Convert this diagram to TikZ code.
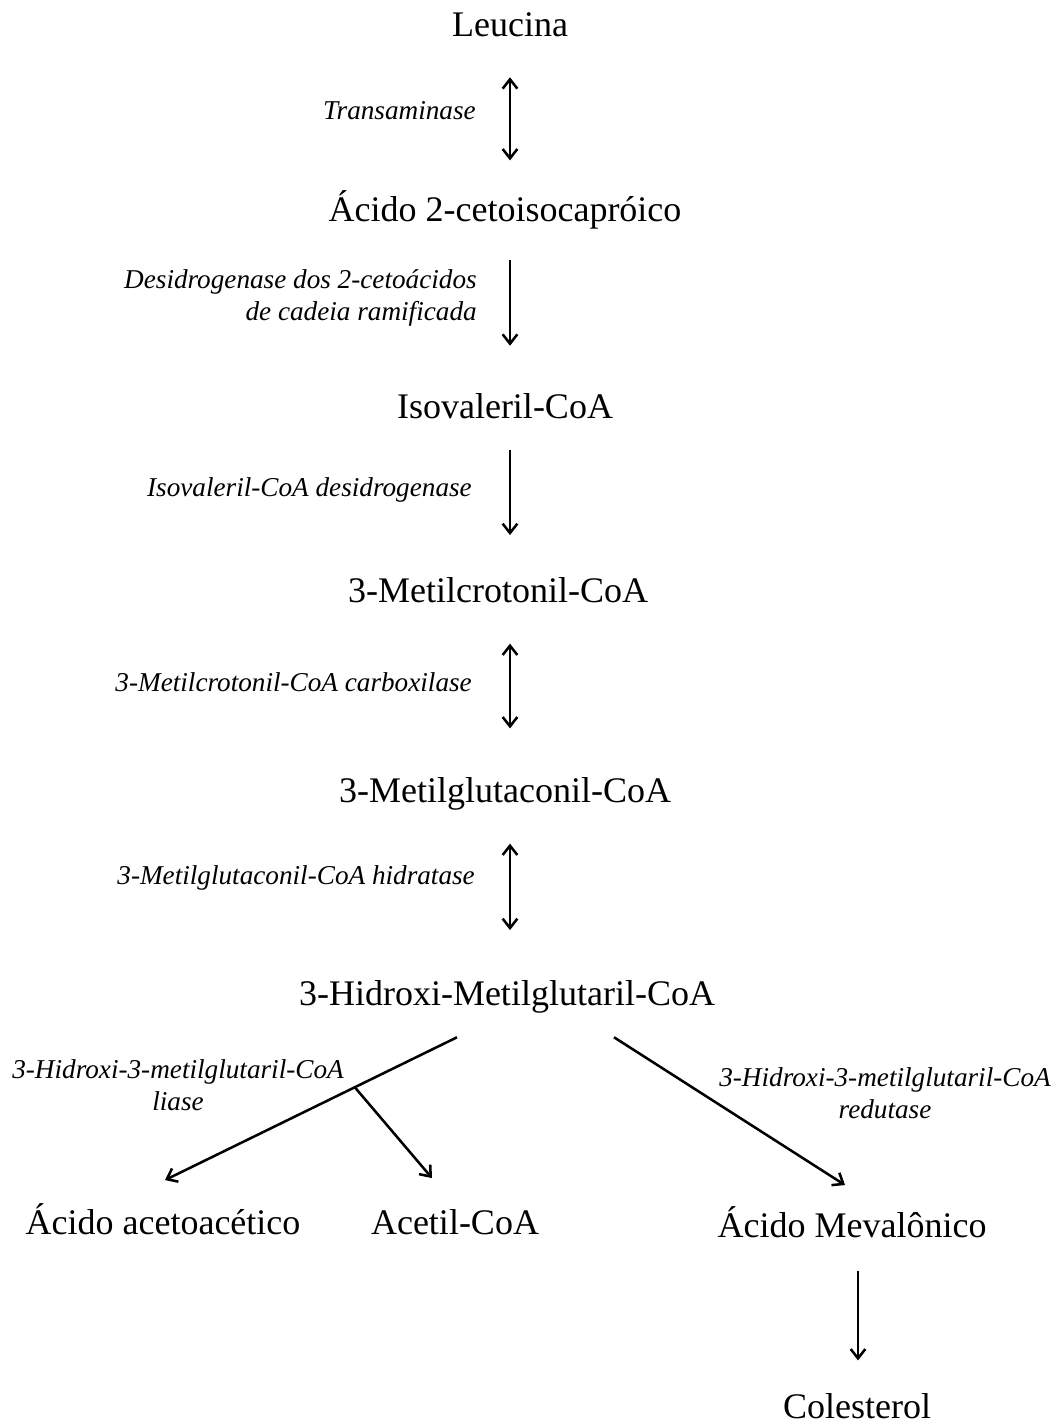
\documentclass[tikz,border=0pt]{standalone}
\usepackage{fontspec}
\setmainfont{Liberation Serif}
\usetikzlibrary{arrows.meta}
\begin{document}
\begin{tikzpicture}[x=0.75pt,y=-0.75pt,
  met/.style={font=\fontsize{27}{30}\selectfont, inner sep=0pt, text height=20pt, text depth=6pt, anchor=base},
  enz/.style={font=\fontsize{20.4}{24}\selectfont\itshape, inner sep=0pt},
  arr/.style={line width=1.9pt, -{Straight Barb[length=7pt,width=11pt,line width=1.9pt]}},
  dbl/.style={line width=1.9pt, {Straight Barb[length=7pt,width=11pt,line width=1.9pt]}-{Straight Barb[length=7pt,width=11pt,line width=1.9pt]}}]
\useasboundingbox (0,0) rectangle (1057,1423);
\coordinate (ax) at (510,0);
\coordinate (bx) at (858,0);
% metabolites
\node[met] (leu)  at (510,37)   {Leucina};
\node[met] (ceto) at (505,222)  {Ácido 2-cetoisocapróico};
\node[met] (iso)  at (505,418)  {Isovaleril-CoA};
\node[met] (mcr)  at (498,602)  {3-Metilcrotonil-CoA};
\node[met] (mgl)  at (505,802)  {3-Metilglutaconil-CoA};
\node[met] (hmg)  at (507,1005) {3-Hidroxi-Metilglutaril-CoA};
\node[met] (aca)  at (163,1234) {Ácido acetoacético};
\node[met] (acc)  at (455,1234) {Acetil-CoA};
\node[met] (mev)  at (852,1237) {Ácido Mevalônico};
\node[met] (col)  at (857,1418) {Colesterol};
% enzymes
\node[enz, anchor=base east] (e1) at (476,120) {Transaminase};
\node[enz, anchor=base east, align=right] (e2) at (477,320) {Desidrogenase dos 2-cetoácidos\\de cadeia ramificada};
\node[enz, anchor=base east] (e3) at (472,496) {Isovaleril-CoA desidrogenase};
\node[enz, anchor=base east] (e4) at (472,691) {3-Metilcrotonil-CoA carboxilase};
\node[enz, anchor=base east] (e5) at (475,884) {3-Metilglutaconil-CoA hidratase};
\node[enz, anchor=base, align=center] (e6) at (178,1110) {3-Hidroxi-3-metilglutaril-CoA\\liase};
\node[enz, anchor=base, align=center] (e7) at (885,1118) {3-Hidroxi-3-metilglutaril-CoA\\redutase};
% arrows
\draw[dbl, shorten <=24pt, shorten >=26pt] (leu.south -| ax) -- (ceto.north -| ax);
\draw[arr, shorten <=22pt, shorten >=34pt] (ceto.south -| ax) -- (iso.north -| ax);
\draw[arr, shorten <=18pt, shorten >=30pt] (iso.south -| ax) -- (mcr.north -| ax);
\draw[dbl, shorten <=25pt, shorten >=35pt] (mcr.south -| ax) -- (mgl.north -| ax);
\draw[dbl, shorten <=25pt, shorten >=36pt] (mgl.south -| ax) -- (hmg.north -| ax);
\draw[arr, shorten <=19pt, shorten >=23pt] (mev.south -| bx) -- (col.north -| bx);
\draw[arr] ([shift={(-50,24)}]hmg.south) -- coordinate[pos=0.35] (br) ([shift={(2,-27)}]aca.north);
\draw[arr] (br) -- ([shift={(-23,-29)}]acc.north);
\draw[arr] ([shift={(107,24)}]hmg.south) -- ([shift={(-7,-25)}]mev.north);
\end{tikzpicture}
\end{document}
